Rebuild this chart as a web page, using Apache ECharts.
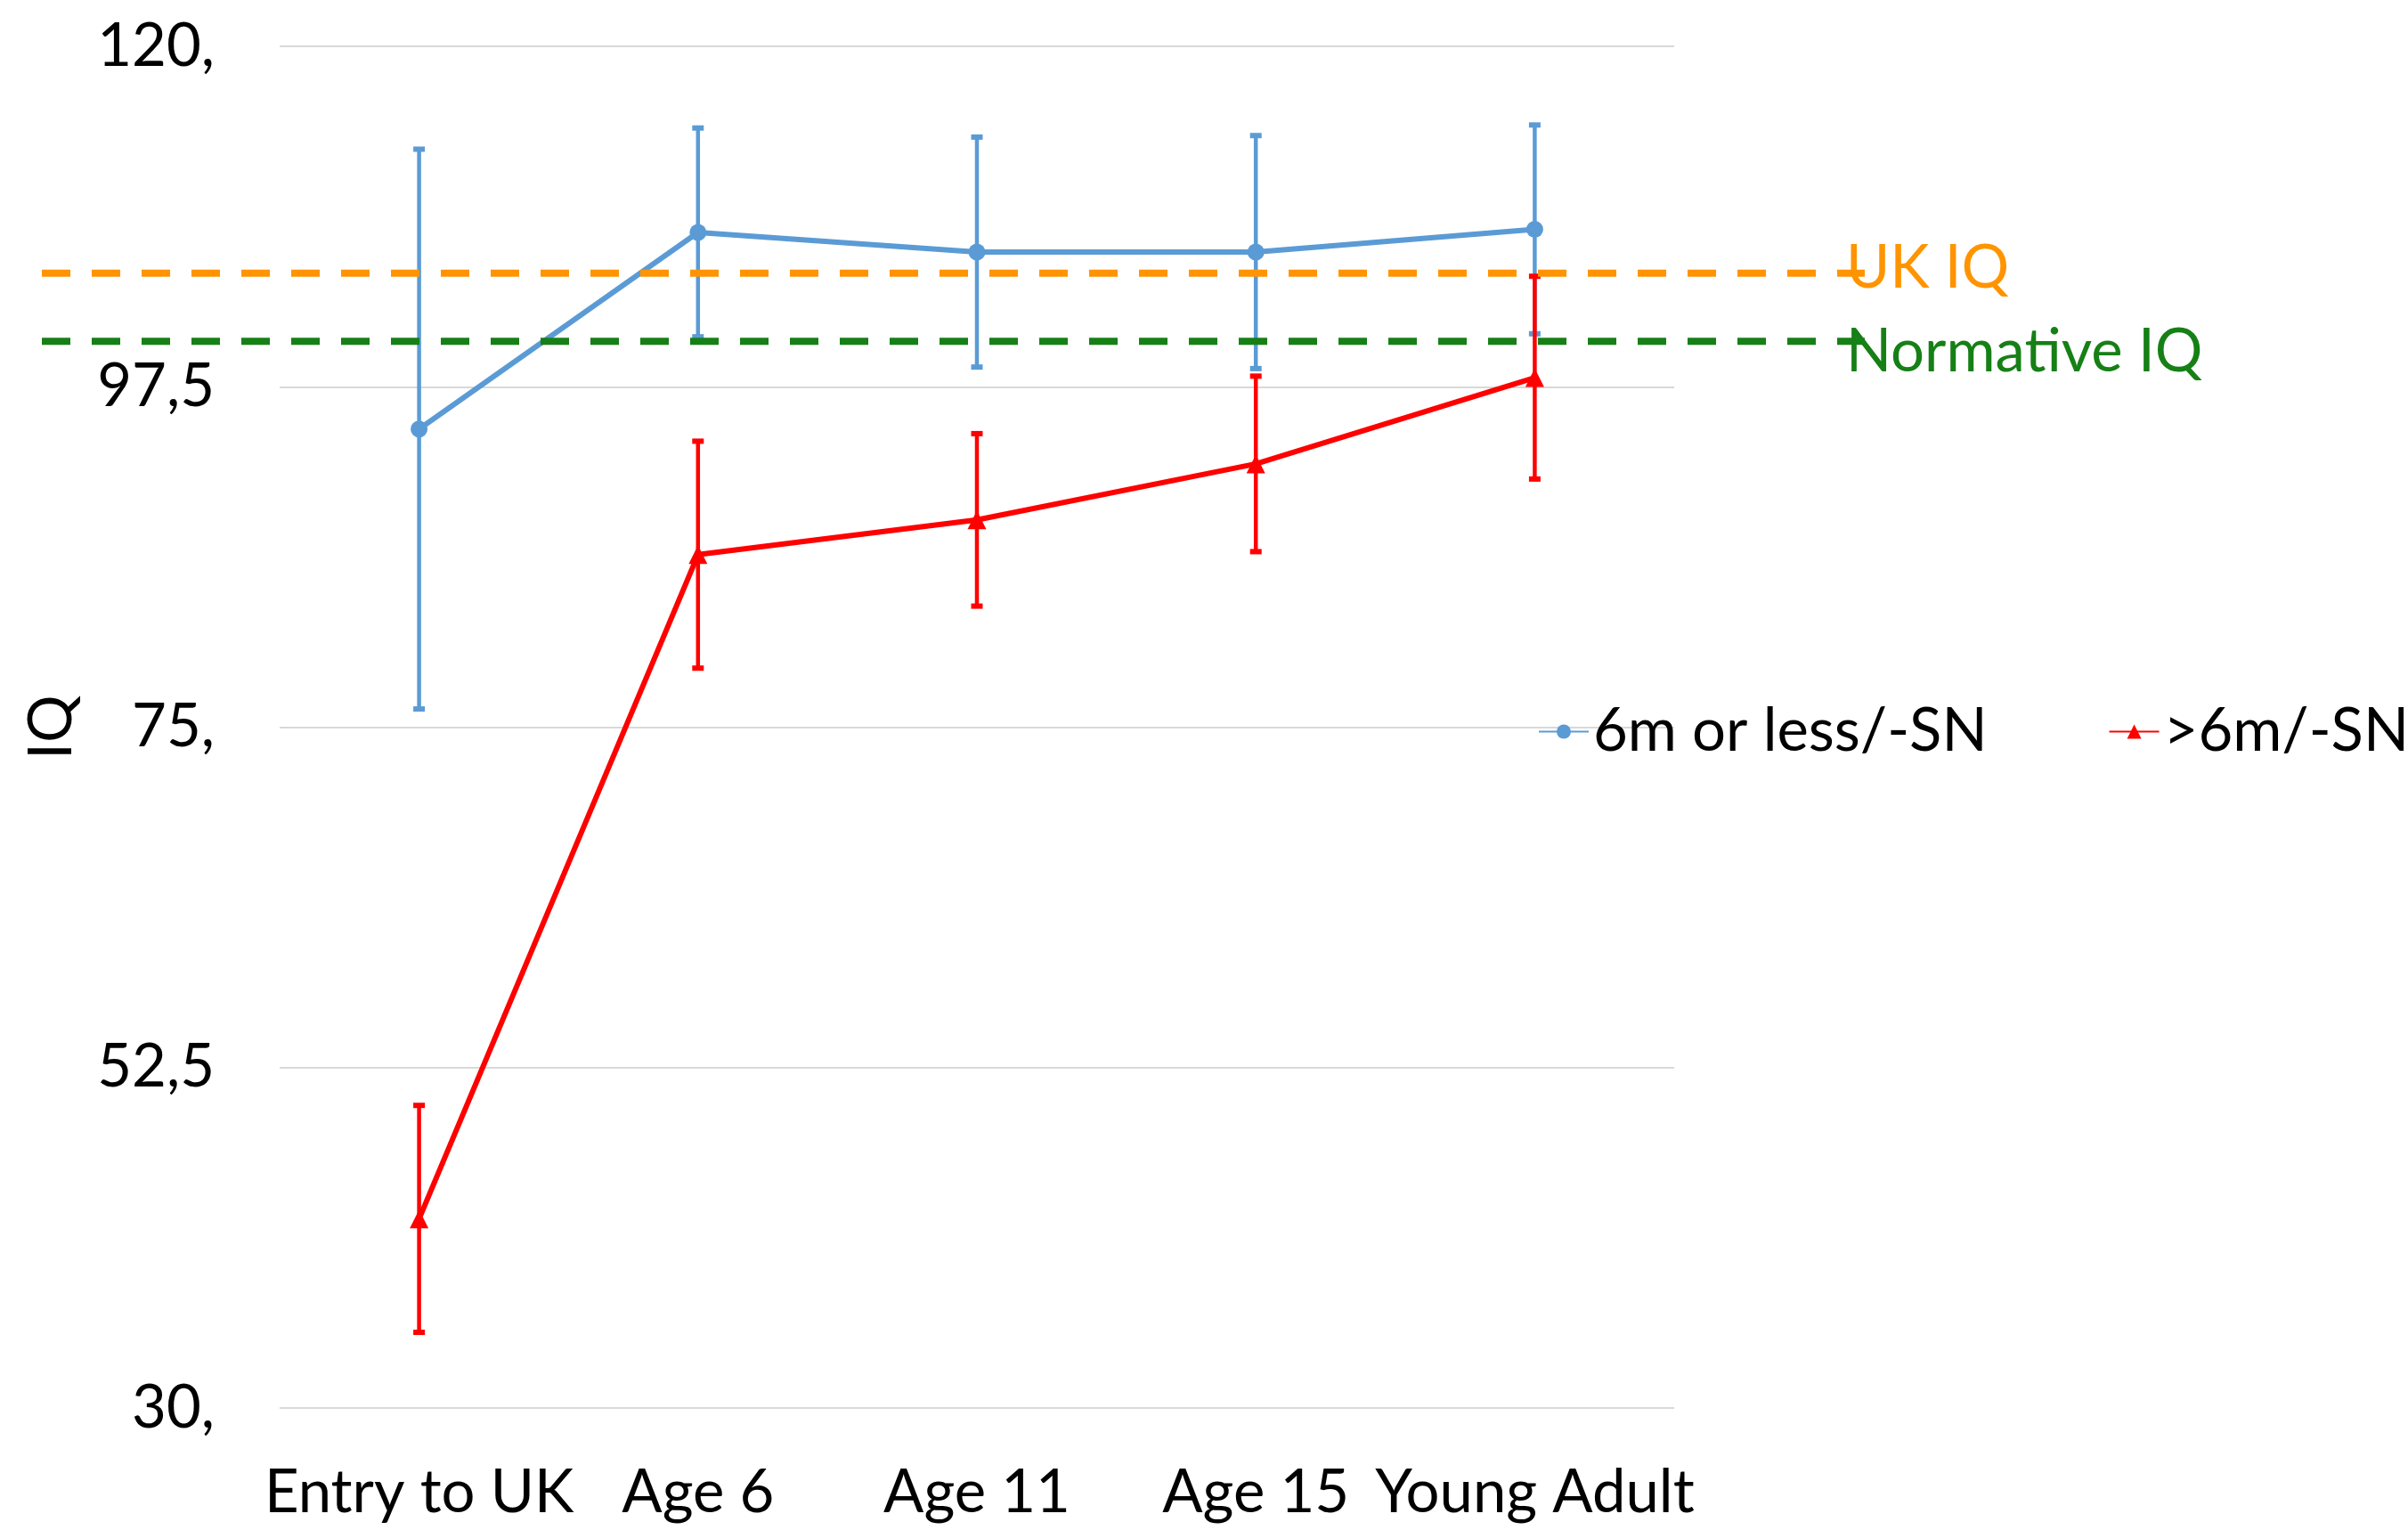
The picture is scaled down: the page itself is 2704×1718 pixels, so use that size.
<!DOCTYPE html>
<html>
<head>
<meta charset="utf-8">
<script src="https://cdn.jsdelivr.net/npm/echarts@6/dist/echarts.min.js"></script>
<style>
html,body{margin:0;padding:0;background:#fff;}
#chart{width:2704px;height:1718px;}
</style>
</head>
<body>
<div id="chart"></div>
<script>
// ---- data ----
const categories = ['Entry to UK', 'Age 6', 'Age 11', 'Age 15', 'Young Adult'];
const seriesNames = ['6m or less/-SN', '>6m/-SN'];
const blueMean = [94.7, 107.7, 106.4, 106.4, 107.9];
const blueErr  = [18.5, 6.9, 7.6, 7.7, 6.9];
const redMean  = [42.5, 86.4, 88.7, 92.4, 98.1];
const redErr   = [7.5, 7.5, 5.7, 5.8, 6.7];
const refNames  = ['UK IQ', 'Normative IQ'];
const refValues = [105, 100.5];
const yTicks = [30, 52.5, 75, 97.5, 120];

const BLUE = '#5B9BD5', RED = '#FF0000', ORANGE = '#FF9400', GREEN = '#168016';
const FONT = 'Lato';
const FS = 67;

function errData(mean, err) {
  return mean.map((m, i) => [i, m - err[i], m + err[i]]);
}
function errSeries(name, mean, err, color) {
  return {
    type: 'custom',
    name: name + ' err',
    xAxisIndex: 0, yAxisIndex: 0,
    z: 2,
    encode: { x: 0, y: [1, 2] },
    data: errData(mean, err),
    renderItem: function (params, api) {
      const x = api.value(0);
      const pLo = api.coord([x, api.value(1)]);
      const pHi = api.coord([x, api.value(2)]);
      const cw = 13, ct = 6;
      return {
        type: 'group',
        children: [
          { type: 'line', shape: { x1: pLo[0], y1: pLo[1], x2: pHi[0], y2: pHi[1] },
            style: { stroke: color, lineWidth: 4.5 } },
          { type: 'rect', shape: { x: pHi[0] - cw / 2, y: pHi[1] - ct / 2, width: cw, height: ct },
            style: { fill: color } },
          { type: 'rect', shape: { x: pLo[0] - cw / 2, y: pLo[1] - ct / 2, width: cw, height: ct },
            style: { fill: color } }
        ]
      };
    }
  };
}

function fmtTick(v) {
  const s = String(v).replace('.', ',');
  return Number.isInteger(v) ? s + ',' : s;
}

const refColors = [ORANGE, GREEN];
const refOffsets = [[-29, -5], [-29, 12]];

const option = {
  animation: false,
  backgroundColor: '#fff',
  textStyle: { fontFamily: FONT },
  grid: [
    { left: 314, right: 824, top: 52, bottom: 137 },
    { left: 47, right: 610, top: 52, bottom: 137 }
  ],
  legend: {
    data: seriesNames,
    orient: 'horizontal',
    left: 1727, top: 788, width: 1000,
    padding: 0,
    itemWidth: 56, itemHeight: 20, itemGap: 136,
    textStyle: { fontFamily: FONT, fontSize: FS, color: '#000' }
  },
  xAxis: [
    {
      type: 'category', gridIndex: 0, data: categories,
      boundaryGap: true,
      axisLine: { show: false }, axisTick: { show: false },
      axisLabel: { color: '#000', fontSize: FS, fontFamily: FONT, margin: 62, interval: 0 }
    },
    { type: 'value', gridIndex: 1, min: 0, max: 1, show: false }
  ],
  yAxis: [
    {
      type: 'value', gridIndex: 0, min: yTicks[0], max: yTicks[yTicks.length - 1],
      interval: yTicks[1] - yTicks[0],
      name: 'IQ', nameLocation: 'middle', nameGap: 222, nameRotate: 90,
      nameTextStyle: { color: '#000', fontSize: FS, fontFamily: FONT },
      axisLine: { show: false }, axisTick: { show: false },
      axisLabel: { color: '#000', fontSize: FS, fontFamily: FONT, margin: 73, formatter: fmtTick },
      splitLine: { lineStyle: { color: '#D9D9D9', width: 2 } }
    },
    { type: 'value', gridIndex: 1, min: yTicks[0], max: yTicks[yTicks.length - 1], show: false }
  ],
  series: [
    errSeries(seriesNames[0], blueMean, blueErr, BLUE),
    errSeries(seriesNames[1], redMean, redErr, RED),
    {
      type: 'line', name: seriesNames[0], data: blueMean,
      xAxisIndex: 0, yAxisIndex: 0, z: 3,
      symbol: 'circle', symbolSize: 19,
      itemStyle: { color: BLUE },
      lineStyle: { color: BLUE, width: 6 }
    },
    {
      type: 'line', name: seriesNames[1], data: redMean,
      xAxisIndex: 0, yAxisIndex: 0, z: 3,
      symbol: 'triangle', symbolSize: 21,
      itemStyle: { color: RED },
      lineStyle: { color: RED, width: 6 }
    }
  ].concat(refValues.map((v, i) => ({
    type: 'line', name: refNames[i],
    xAxisIndex: 1, yAxisIndex: 1, z: 4,
    symbol: 'none', silent: true,
    data: [[0, v], [1, v]],
    lineStyle: { color: refColors[i], width: 8, type: [32, 24] },
    endLabel: {
      show: true, formatter: refNames[i], color: refColors[i],
      fontSize: FS, fontFamily: FONT, offset: refOffsets[i]
    }
  })))
};

const chart = echarts.init(document.getElementById('chart'), null, { renderer: 'canvas' });
chart.setOption(option);
</script>
</body>
</html>
